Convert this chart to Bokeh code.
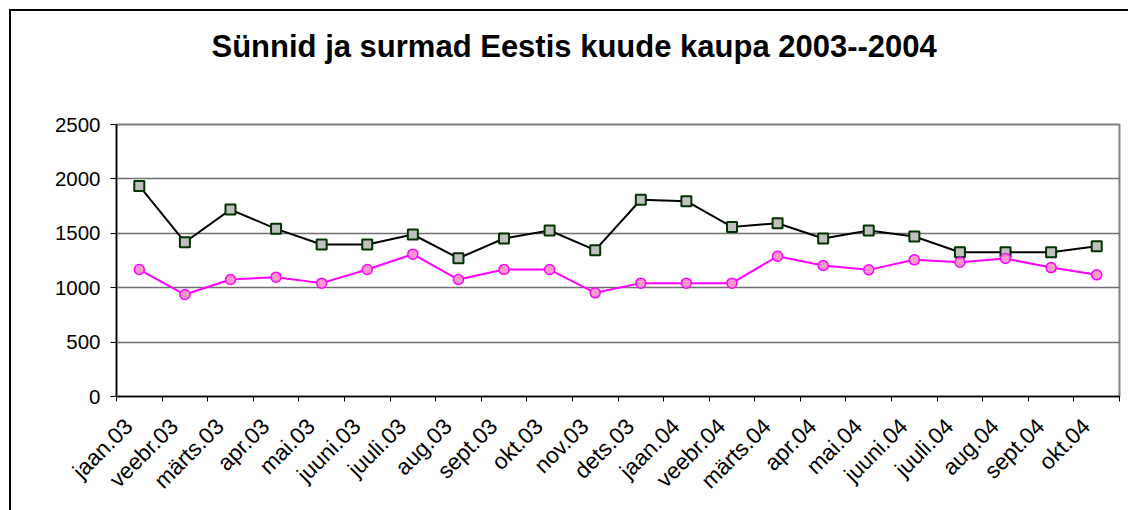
import numpy as np
from bokeh.plotting import figure
from bokeh.models import Range1d, FixedTicker, Title, InlineStyleSheet
from bokeh.embed import file_html
from bokeh.resources import INLINE

months = ["jaan.03", "veebr.03", "märts.03", "apr.03", "mai.03", "juuni.03",
          "juuli.03", "aug.03", "sept.03", "okt.03", "nov.03", "dets.03",
          "jaan.04", "veebr.04", "märts.04", "apr.04", "mai.04", "juuni.04",
          "juuli.04", "aug.04", "sept.04", "okt.04"]
surmad = [1935, 1418, 1718, 1541, 1397, 1397, 1489, 1271, 1452, 1526, 1345, 1808,
          1795, 1559, 1593, 1452, 1526, 1470, 1326, 1326, 1326, 1381]
sunnid = [1167, 937, 1075, 1097, 1042, 1167, 1308, 1075, 1167, 1167, 953, 1042,
          1042, 1042, 1289, 1204, 1164, 1256, 1234, 1268, 1185, 1118]
y_ticks = [0, 500, 1000, 1500, 2000, 2500]
title_text = "Sünnid ja surmad Eestis kuude kaupa 2003--2004"

n = len(months)
xc = np.arange(n) + 0.5
label_shift = 0.23  # labels sit slightly left of the category centre
FONT = "Liberation Sans"

border_css = InlineStyleSheet(css="""
:host { position: relative; }
:host::after {
  content: "";
  position: absolute;
  left: 9px; top: 9px;
  width: calc(100% - 9px); height: calc(100% - 9px);
  border-left: 2px solid black; border-top: 2px solid black;
  box-sizing: border-box;
  pointer-events: none;
  z-index: 100;
}
""")

p = figure(width=1128, height=510, output_backend="svg", toolbar_location=None,
           x_range=Range1d(0, n), y_range=Range1d(0, 2500),
           min_border_left=116, min_border_right=9, min_border_top=124,
           min_border_bottom=114, stylesheets=[border_css])
p.background_fill_color = "white"
p.border_fill_color = "white"
p.outline_line_color = "#808080"
p.outline_line_width = 2

# spacer between the title and the plot frame (innermost "above" panel)
p.add_layout(Title(text=" ", text_font_size="1px", standoff=58), "above")

p.title.text = title_text
p.title.text_font = FONT
p.title.text_font_size = "31px"
p.title.text_font_style = "bold"
p.title.text_color = "black"
p.title.align = "left"
p.title.offset = 95
p.title.standoff = 0

# grid
p.xgrid.visible = False
p.ygrid.ticker = FixedTicker(ticks=y_ticks)
p.ygrid.grid_line_color = "#707070"
p.ygrid.grid_line_width = 1.3

# y axis
p.yaxis.ticker = FixedTicker(ticks=y_ticks)
p.yaxis.axis_line_color = "black"
p.yaxis.axis_line_width = 1.5
p.yaxis.major_tick_line_color = "black"
p.yaxis.major_tick_out = 6
p.yaxis.major_tick_in = 0
p.yaxis.minor_tick_line_color = None
p.yaxis.major_label_text_font = FONT
p.yaxis.major_label_text_font_size = "20.5px"
p.yaxis.major_label_text_color = "black"
p.yaxis.major_label_standoff = 10

# x axis: boundary ticks as minor ticks, labels near category centres
lab_pos = [float(x - label_shift) for x in xc]
p.xaxis.ticker = FixedTicker(ticks=lab_pos, minor_ticks=list(range(n + 1)))
p.xaxis.major_label_overrides = {x: m for x, m in zip(lab_pos, months)}
p.xaxis.axis_line_color = "black"
p.xaxis.axis_line_width = 1.5
p.xaxis.major_tick_line_color = None
p.xaxis.major_tick_out = 0
p.xaxis.major_tick_in = 0
p.xaxis.minor_tick_line_color = "black"
p.xaxis.minor_tick_out = 5
p.xaxis.minor_tick_in = 0
p.xaxis.major_label_orientation = np.pi / 4
p.xaxis.major_label_text_font = FONT
p.xaxis.major_label_text_font_size = "22.5px"
p.xaxis.major_label_text_color = "black"
p.xaxis.major_label_standoff = 21

# series
p.line(xc, surmad, line_color="black", line_width=2)
p.scatter(xc, surmad, marker="square", size=10, fill_color="#C0C0C0",
          line_color="#003300", line_width=2)
p.line(xc, sunnid, line_color="#FF00FF", line_width=2)
p.scatter(xc, sunnid, marker="circle", size=10, fill_color="#FF99CC",
          line_color="#FF00FF", line_width=1.5)

open("out.html", "w").write(file_html(p, INLINE))
